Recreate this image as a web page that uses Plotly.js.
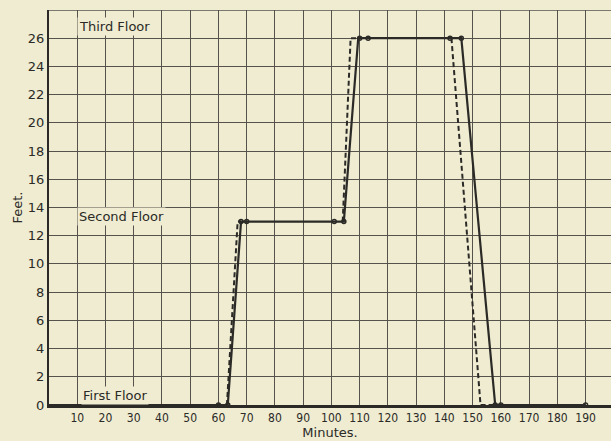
<!DOCTYPE html>
<html><head><meta charset="utf-8">
<script src="https://cdn.plot.ly/plotly-3.0.1.min.js"></script>
<style>html,body{margin:0;padding:0;background:#efecd2;}</style>
</head><body><div id="chart" style="width:611px;height:441px;"></div>
<script>
// Solid line: actual movement
const solidMinutes = [0, 60, 63.3, 68, 70, 101, 104.4, 109.5, 113, 142, 146, 158, 160, 190];
const solidFeet    = [0, 0, 0, 13, 13, 13, 13, 26, 26, 26, 26, 0, 0, 0];
// Circled points on the solid line
const markMinutes = [60, 63.3, 68, 70, 101, 104.4, 110, 113, 142, 146, 158, 160, 190];
const markFeet    = [0, 0, 13, 13, 13, 13, 26, 26, 26, 26, 0, 0, 0];
// Dashed line: alternative schedule
const dashMinutes = [63, 66.8, 68, null, 104, 106.8, 110, null, 142.5, 152.8, 158];
const dashFeet    = [0, 13, 13, null, 13, 26, 26, null, 26, 0, 0];
// Floor labels
const floorNames = ["Third Floor", "Second Floor", "First Floor"];
const floorX = [10, 10, 11.5];
const floorY = [26.8, 13.35, 0.7];
// Ticks
const xTicks = [10,20,30,40,50,60,70,80,90,100,110,120,130,140,150,160,170,180,190];
const yTicks = [0,2,4,6,8,10,12,14,16,18,20,22,24,26];

const ink = '#2b2a26';
const grid = '#55534b';
const bg = '#efecd2';

const traces = [
  {x: dashMinutes, y: dashFeet, mode: 'lines', connectgaps: false,
   line: {color: ink, width: 2, dash: '5px,3px'}, hoverinfo: 'skip'},
  {x: solidMinutes, y: solidFeet, mode: 'lines',
   line: {color: ink, width: 2.2}, hoverinfo: 'skip'},
  {x: markMinutes, y: markFeet, mode: 'markers',
   marker: {color: ink, size: 4, symbol: 'circle-open', line: {width: 1.5, color: ink}}, hoverinfo: 'skip'}
];

const layout = {
  width: 611, height: 441,
  margin: {l: 49, r: 0, t: 10, b: 36},
  paper_bgcolor: bg, plot_bgcolor: bg,
  showlegend: false,
  font: {family: 'DejaVu Sans, sans-serif', size: 12, color: ink},
  xaxis: {range: [0, 199], tickvals: xTicks, ticktext: xTicks.map(String),
    showgrid: true, gridcolor: grid, gridwidth: 1,
    showline: true, linecolor: ink, linewidth: 2.5, zeroline: false,
    ticks: '', tickfont: {family: 'DejaVu Sans Condensed, DejaVu Sans, sans-serif', size: 12, color: ink},
    title: {text: 'Minutes.', font: {size: 13, color: ink}, standoff: 1}},
  yaxis: {range: [0, 28], tickvals: yTicks, ticktext: yTicks.map(String),
    showgrid: true, gridcolor: grid, gridwidth: 1,
    showline: true, linecolor: ink, linewidth: 2, zeroline: false,
    ticks: '', tickfont: {family: 'DejaVu Sans, sans-serif', size: 13, color: ink},
    title: {text: 'Feet.', font: {size: 13, color: ink}, standoff: 2}},
  shapes: [
    {type: 'line', xref: 'x', yref: 'y', x0: 0, x1: 199, y0: 28, y1: 28, line: {color: grid, width: 1.5}}
  ],
  annotations: floorNames.map((t, i) => ({
    x: floorX[i], y: floorY[i], xref: 'x', yref: 'y', text: t, showarrow: false,
    xanchor: 'left', yanchor: 'middle', bgcolor: bg, borderpad: 1,
    font: {family: 'DejaVu Sans, sans-serif', size: 13, color: ink}
  }))
};

Plotly.newPlot('chart', traces, layout, {displayModeBar: false, staticPlot: true});
</script></body></html>
